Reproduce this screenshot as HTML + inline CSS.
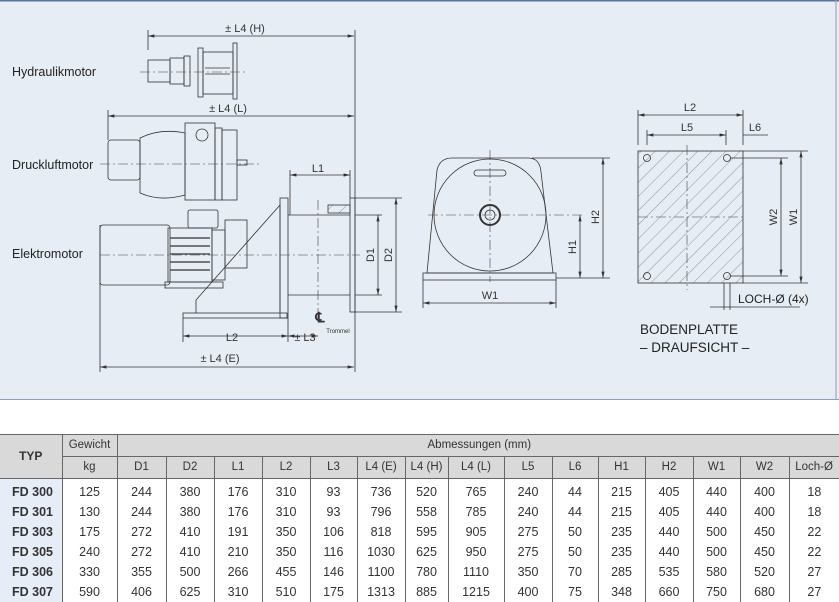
<!DOCTYPE html>
<html><head><meta charset="utf-8"><style>
body{margin:0;width:839px;height:600px;background:#fff;position:relative;overflow:hidden;font-family:"Liberation Sans",sans-serif}
#panel{position:absolute;left:0;top:0;width:839px;height:400px}
table{position:absolute;left:0;top:434px;border-collapse:collapse;font-size:12.5px;color:#333;table-layout:fixed;width:839px}
td{border-left:1px solid #666;text-align:center;padding:0;height:20px;line-height:20px}
tr.h td{background:#d9d9d9;border:1px solid #666;height:21px;line-height:21px;font-size:11.5px}
td.t{background:#e6edf6;font-weight:bold;text-align:left;padding-left:12px;border-left:none;font-size:12.5px}
tr.f td{padding-top:3px}
</style></head><body>
<svg id="panel" width="839" height="400" viewBox="0 0 839 400" font-family="Liberation Sans, sans-serif">
<defs><marker id="a" markerWidth="8" markerHeight="6" refX="8" refY="3" orient="auto-start-reverse"><path d="M0,1 L8,3 L0,5z" fill="#333"/></marker>
<pattern id="h" width="10" height="10" patternUnits="userSpaceOnUse" patternTransform="rotate(45)"><line x1="0" y1="0" x2="0" y2="10" stroke="#555" stroke-width="0.6"/></pattern></defs>
<rect width="839" height="400" fill="#e7edf5"/>
<line x1="0" y1="0.5" x2="839" y2="0.5" stroke="#5a7497" stroke-width="2"/>
<line x1="0" y1="400" x2="839" y2="400" stroke="#5a7497" stroke-width="1.2"/>
<line x1="836" y1="0" x2="836" y2="400" stroke="#8ea0b8" stroke-width="1"/>
<g fill="#222" font-size="12.5">
<text x="12" y="76">Hydraulikmotor</text><text x="12" y="169">Druckluftmotor</text><text x="12" y="258">Elektromotor</text></g>
<g stroke="#333" stroke-width="0.8" fill="none">
<line x1="148" y1="36" x2="354" y2="36" marker-start="url(#a)" marker-end="url(#a)"/>
<line x1="148" y1="30" x2="148" y2="50"/><line x1="355" y1="30" x2="355" y2="372"/>
<line x1="108" y1="116" x2="354" y2="116" marker-start="url(#a)" marker-end="url(#a)"/>
<line x1="108" y1="110" x2="108" y2="140"/>
<line x1="100" y1="367" x2="354" y2="367" marker-start="url(#a)" marker-end="url(#a)"/>
<line x1="100" y1="225" x2="100" y2="372"/>
<line x1="183" y1="336" x2="288" y2="336" marker-start="url(#a)" marker-end="url(#a)"/>
<line x1="183" y1="318" x2="183" y2="342"/><line x1="288" y1="318" x2="288" y2="342"/>
<line x1="288" y1="336" x2="318" y2="336" marker-start="url(#a)" marker-end="url(#a)"/>
<line x1="290" y1="175" x2="350" y2="175" marker-start="url(#a)" marker-end="url(#a)"/>
<line x1="290" y1="170" x2="290" y2="215"/><line x1="350" y1="170" x2="350" y2="198"/>
<line x1="378" y1="215" x2="378" y2="295" marker-start="url(#a)" marker-end="url(#a)"/>
<line x1="396" y1="198" x2="396" y2="312" marker-start="url(#a)" marker-end="url(#a)"/>
<line x1="355" y1="198" x2="402" y2="198"/><line x1="355" y1="312" x2="402" y2="312"/>
<line x1="355" y1="215" x2="382" y2="215"/><line x1="355" y1="295" x2="382" y2="295"/>
<rect x="148" y="60" width="22" height="22"/><rect x="170" y="58" width="14" height="26"/><rect x="184" y="56" width="6" height="30"/>
<rect x="198" y="48" width="5" height="49"/><rect x="203" y="52" width="30" height="42"/><rect x="233" y="43" width="4" height="56"/>
<line x1="205" y1="68" x2="230" y2="68"/><line x1="205" y1="74" x2="230" y2="74"/>
<rect x="108" y="140" width="32" height="40" rx="3"/><path d="M140,138 Q160,128 185,133 L185,195 Q160,202 140,193z"/>
<rect x="185" y="123" width="30" height="77"/><circle cx="202" cy="135" r="6"/><rect x="215" y="128" width="7" height="72"/><rect x="222" y="130" width="15" height="70"/>
<rect x="237" y="160" width="10" height="5"/>
<rect x="100" y="225" width="70" height="60" rx="3"/><rect x="168" y="228" width="44" height="54"/>
<g stroke-width="1.2"><line x1="170" y1="238" x2="210" y2="238"/><line x1="170" y1="246" x2="210" y2="246"/><line x1="170" y1="254" x2="210" y2="254"/><line x1="170" y1="262" x2="210" y2="262"/><line x1="170" y1="270" x2="210" y2="270"/></g>
<rect x="188" y="210" width="30" height="18" rx="2"/><rect x="212" y="230" width="13" height="50"/><rect x="225" y="220" width="22" height="48"/>
<rect x="165" y="282" width="58" height="6"/>
<path d="M196,313 L196,300 L280,205 L280,313"/>
<rect x="280" y="198" width="8" height="120"/><rect x="183" y="313" width="104" height="5"/>
<line x1="288" y1="215" x2="350" y2="215"/><line x1="288" y1="295" x2="350" y2="295"/>
<rect x="350" y="198" width="5" height="114"/><rect x="328" y="205" width="22" height="8" fill="url(#h)"/>
<path d="M437,170 Q440,158 452,158 L528,158 Q540,158 541,172 L553,273 L427,273z"/>
<rect x="423" y="273" width="133" height="7"/>
<circle cx="490" cy="215" r="56"/><circle cx="490" cy="215" r="10" stroke-width="2"/><circle cx="490" cy="215" r="5"/>
<rect x="474" y="170" width="32" height="6" rx="3"/>
<line x1="423" y1="303" x2="556" y2="303" marker-start="url(#a)" marker-end="url(#a)"/>
<line x1="423" y1="280" x2="423" y2="308"/><line x1="556" y1="280" x2="556" y2="308"/>
<line x1="603" y1="158" x2="603" y2="278" marker-start="url(#a)" marker-end="url(#a)"/>
<line x1="580" y1="215" x2="580" y2="278" marker-start="url(#a)" marker-end="url(#a)"/>
<line x1="532" y1="158" x2="610" y2="158"/><line x1="556" y1="278" x2="610" y2="278"/>
<rect x="638" y="151" width="105" height="132" fill="url(#h)"/>
<circle cx="647" cy="158" r="3.5"/><circle cx="727" cy="158" r="3.5"/><circle cx="647" cy="276" r="3.5"/><circle cx="727" cy="276" r="3.5"/>
<line x1="638" y1="115" x2="743" y2="115" marker-start="url(#a)" marker-end="url(#a)"/>
<line x1="647" y1="135" x2="726" y2="135" marker-start="url(#a)" marker-end="url(#a)"/>
<line x1="638" y1="110" x2="638" y2="145"/><line x1="743" y1="110" x2="743" y2="145"/>
<line x1="647" y1="130" x2="647" y2="145"/><line x1="726" y1="130" x2="726" y2="145"/>
<line x1="743" y1="135" x2="768" y2="135"/>
<line x1="781" y1="158" x2="781" y2="276" marker-start="url(#a)" marker-end="url(#a)"/>
<line x1="801" y1="151" x2="801" y2="283" marker-start="url(#a)" marker-end="url(#a)"/>
<line x1="743" y1="151" x2="808" y2="151"/><line x1="743" y1="283" x2="808" y2="283"/>
<line x1="730" y1="158" x2="788" y2="158"/><line x1="730" y1="276" x2="788" y2="276"/>
<line x1="724" y1="283" x2="724" y2="310"/><line x1="730" y1="283" x2="730" y2="310"/>
<line x1="710" y1="307" x2="800" y2="307"/>
</g>
<g stroke="#444" stroke-width="0.6" stroke-dasharray="10,3,2,3" fill="none">
<line x1="140" y1="72" x2="245" y2="72"/><line x1="100" y1="164" x2="260" y2="164"/>
<line x1="100" y1="255" x2="360" y2="255"/><line x1="318" y1="200" x2="318" y2="318"/>
<line x1="428" y1="215" x2="585" y2="215"/><line x1="490" y1="150" x2="490" y2="282"/>
<line x1="638" y1="217" x2="743" y2="217"/><line x1="687" y1="145" x2="687" y2="290"/>
</g>
<g fill="#333" font-size="11" text-anchor="middle">
<text x="245" y="32">± L4 (H)</text><text x="228" y="112">± L4 (L)</text><text x="318" y="172">L1</text>
<text x="232" y="341">L2</text><text x="305" y="341">± L3</text><text x="220" y="362">± L4 (E)</text>
<text x="490" y="299">W1</text><text x="690" y="111">L2</text><text x="687" y="131">L5</text><text x="755" y="131">L6</text>
<text transform="translate(374,255) rotate(-90)">D1</text><text transform="translate(392,255) rotate(-90)">D2</text>
<text transform="translate(576,247) rotate(-90)">H1</text><text transform="translate(599,217) rotate(-90)">H2</text>
<text transform="translate(777,217) rotate(-90)">W2</text><text transform="translate(797,217) rotate(-90)">W1</text>
<text x="320" y="322" font-size="14" font-weight="bold">℄</text><text x="338" y="333" font-size="6">Trommel</text>
</g>
<g fill="#222"><text x="738" y="303" font-size="12">LOCH-Ø (4x)</text>
<text x="640" y="334" font-size="13.5">BODENPLATTE</text><text x="640" y="352" font-size="13.5">– DRAUFSICHT –</text></g>
</svg>
<table>
<colgroup><col style="width:62px"><col style="width:55px"><col style="width:49px"><col style="width:48px"><col style="width:48px"><col style="width:48px"><col style="width:47px"><col style="width:48px"><col style="width:43px"><col style="width:56px"><col style="width:48px"><col style="width:46px"><col style="width:47px"><col style="width:48px"><col style="width:47px"><col style="width:49px"><col style="width:50px"></colgroup>
<tr class="h"><td rowspan="2" style="font-weight:bold;border-left:none;font-size:12px">TYP</td><td>Gewicht</td><td colspan="15" style="text-align:left;padding-left:310px">Abmessungen (mm)</td></tr>
<tr class="h"><td>kg</td><td>D1</td><td>D2</td><td>L1</td><td>L2</td><td>L3</td><td>L4 (E)</td><td>L4 (H)</td><td>L4 (L)</td><td>L5</td><td>L6</td><td>H1</td><td>H2</td><td>W1</td><td>W2</td><td>Loch-Ø</td></tr>
<tr class="f"><td class="t">FD 300</td><td>125</td><td>244</td><td>380</td><td>176</td><td>310</td><td>93</td><td>736</td><td>520</td><td>765</td><td>240</td><td>44</td><td>215</td><td>405</td><td>440</td><td>400</td><td>18</td></tr>
<tr><td class="t">FD 301</td><td>130</td><td>244</td><td>380</td><td>176</td><td>310</td><td>93</td><td>796</td><td>558</td><td>785</td><td>240</td><td>44</td><td>215</td><td>405</td><td>440</td><td>400</td><td>18</td></tr>
<tr><td class="t">FD 303</td><td>175</td><td>272</td><td>410</td><td>191</td><td>350</td><td>106</td><td>818</td><td>595</td><td>905</td><td>275</td><td>50</td><td>235</td><td>440</td><td>500</td><td>450</td><td>22</td></tr>
<tr><td class="t">FD 305</td><td>240</td><td>272</td><td>410</td><td>210</td><td>350</td><td>116</td><td>1030</td><td>625</td><td>950</td><td>275</td><td>50</td><td>235</td><td>440</td><td>500</td><td>450</td><td>22</td></tr>
<tr><td class="t">FD 306</td><td>330</td><td>355</td><td>500</td><td>266</td><td>455</td><td>146</td><td>1100</td><td>780</td><td>1110</td><td>350</td><td>70</td><td>285</td><td>535</td><td>580</td><td>520</td><td>27</td></tr>
<tr><td class="t">FD 307</td><td>590</td><td>406</td><td>625</td><td>310</td><td>510</td><td>175</td><td>1313</td><td>885</td><td>1215</td><td>400</td><td>75</td><td>348</td><td>660</td><td>750</td><td>680</td><td>27</td></tr>
</table>
</body></html>
